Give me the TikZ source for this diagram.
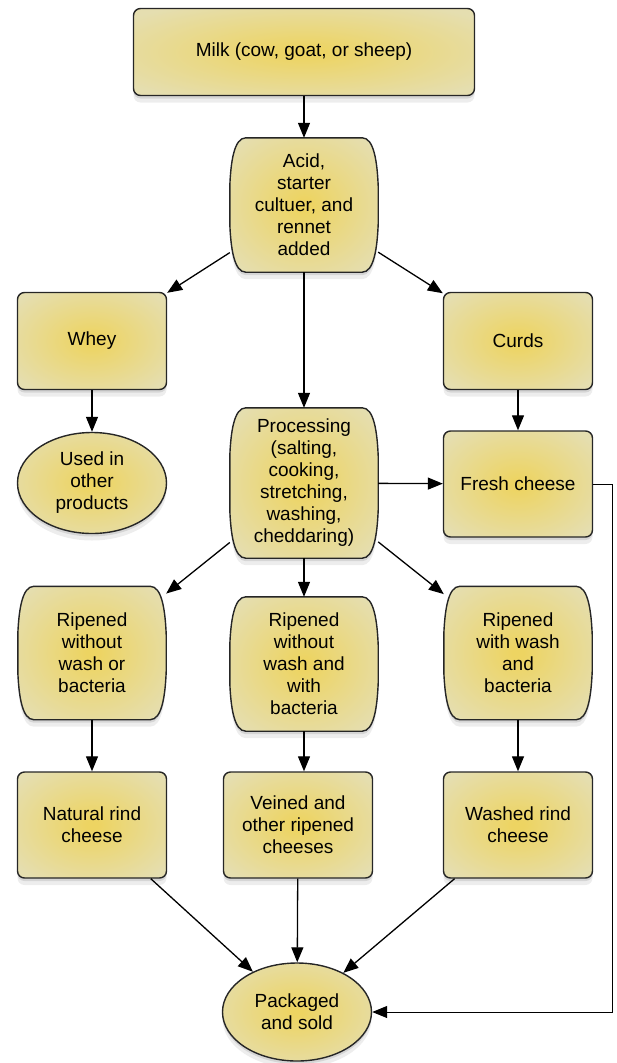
\documentclass[tikz,border=0pt]{standalone}
\usepackage{fontspec}
\setmainfont{Liberation Sans}
\usetikzlibrary{shapes.geometric,shadows,arrows.meta,backgrounds}
\definecolor{cgold}{RGB}{237,212,98}
\definecolor{cpale}{RGB}{229,222,176}
\pgfdeclareradialshading{cheese}{\pgfpoint{0bp}{0bp}}{color(0bp)=(cgold); color(2bp)=(cgold); color(32bp)=(cpale); color(50bp)=(cpale)}

\begin{document}
\begin{tikzpicture}[x=1pt,y=-1pt,font=\fontsize{19}{22}\selectfont,
  shad/.style={drop shadow={shadow xshift=0pt,shadow yshift=-3pt,opacity=.22},drop shadow={shadow xshift=0pt,shadow yshift=-7pt,opacity=.14}},
  box/.style={rectangle,rounded corners=7pt,draw=black!85,line width=1.4pt,shade,shading=cheese,shad,align=center,minimum width=149pt,minimum height=97pt},
  oval/.style={ellipse,draw=black!85,line width=1.4pt,shade,shading=cheese,shad,align=center,minimum width=149pt,minimum height=101pt,inner sep=0pt},
  barrel/.style={rectangle,align=center,minimum width=148pt,minimum height=134pt},
  barfill/.style={draw=black!85,line width=1.4pt,shade,shading=cheese,shad},
  arr/.style={-{Triangle[length=15pt,width=12pt]},line width=1.3pt}]
\useasboundingbox (0,0) rectangle (616,1063);
\node[box,minimum width=341pt,minimum height=87pt] at (304,52) (milk) {Milk (cow, goat, or sheep)};
\node[barrel] at (304,205) (acid) {Acid,\\starter\\cultuer, and\\rennet\\added};
\node[box] at (92,341) (whey) {Whey};
\node[box] at (518,341) (curds) {Curds};
\node[oval] at (92,483) (used) {Used in\\other\\products};
\node[barrel,minimum height=150pt] at (304,483) (proc) {Processing\\(salting,\\cooking,\\stretching,\\washing,\\cheddaring)};
\node[box,minimum height=106pt] at (518,484) (fresh) {Fresh cheese};
\node[barrel,minimum height=133pt] at (92,653) (rip1) {Ripened\\without\\wash or\\bacteria};
\node[barrel] at (304,664) (rip2) {Ripened\\without\\wash and\\with\\bacteria};
\node[barrel,minimum height=133pt] at (518,653) (rip3) {Ripened\\with wash\\and\\bacteria};
\node[box,minimum height=106pt] at (92,825) (rind1) {Natural rind\\cheese};
\node[box,minimum height=106pt] at (298,825) (rind2) {Veined and\\other ripened\\cheeses};
\node[box,minimum height=106pt] at (518,825) (rind3) {Washed rind\\cheese};
\node[oval,minimum height=98pt] at (297,1012) (pack) {Packaged\\and sold};
\coordinate (turn) at (612,484);

\begin{pgfonlayer}{background}
\foreach \n in {acid,proc,rip1,rip2,rip3}
  \path[barfill] ([xshift=16pt]\n.north west) -- ([xshift=-16pt]\n.north east)
    .. controls ([xshift=-4pt]\n.north east) and ([xshift=-1pt,yshift=-25pt]\n.north east) .. ([yshift=-48pt]\n.north east)
    -- ([yshift=48pt]\n.south east)
    .. controls ([xshift=-1pt,yshift=25pt]\n.south east) and ([xshift=-4pt]\n.south east) .. ([xshift=-16pt]\n.south east)
    -- ([xshift=16pt]\n.south west)
    .. controls ([xshift=4pt]\n.south west) and ([xshift=1pt,yshift=25pt]\n.south west) .. ([yshift=48pt]\n.south west)
    -- ([yshift=-48pt]\n.north west)
    .. controls ([xshift=1pt,yshift=-25pt]\n.north west) and ([xshift=4pt]\n.north west) .. ([xshift=16pt]\n.north west) -- cycle;
\end{pgfonlayer}

\draw[arr] (milk) -- (acid);
\draw[arr] (acid) -- (whey);
\draw[arr] (acid) -- (curds);
\draw[arr] (acid) -- (proc);
\draw[arr] (whey) -- (used);
\draw[arr] (curds) -- (fresh);
\draw[arr] (proc) -- (fresh);
\draw[arr] (proc) -- (rip1);
\draw[arr] (proc) -- (rip2);
\draw[arr] (proc) -- (rip3);
\draw[arr] (rip1) -- (rind1);
\draw[arr] (rip2) -- (rip2 |- rind2.north);
\draw[arr] (rip3) -- (rind3);
\draw[arr] (rind1) -- (pack);
\draw[arr] (rind2) -- (pack);
\draw[arr] (rind3) -- (pack);
\draw[arr,line width=1pt] (fresh) -- (turn) |- (pack);
\end{tikzpicture}
\end{document}
